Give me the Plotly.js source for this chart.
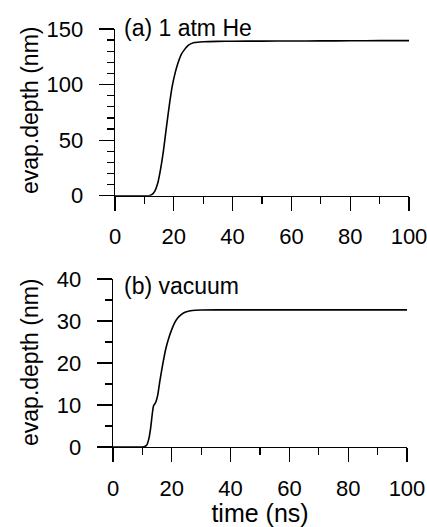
<!DOCTYPE html>
<html>
<head>
<meta charset="utf-8">
<script src="https://cdn.plot.ly/plotly-3.0.1.min.js"></script>
<style>
  html, body { margin: 0; padding: 0; background: #fff; }
  #chart { width: 427px; height: 527px; }
</style>
</head>
<body>
<div id="chart"></div>
<script>
// (a) evaporation depth under 1 atm helium
const timeHe  = [0, 10, 11.5, 12.5, 13.5, 14.5, 15.5, 16.5, 17.5, 18.5, 19.5, 20.5, 21.5, 22.5, 23.5, 25, 27, 30, 35, 40, 50, 60, 70, 80, 90, 100];
const depthHe = [0, 0, 0, 1, 4, 11, 24, 41, 62, 82, 99, 111, 120, 127, 131, 135.5, 137.8, 138.6, 138.9, 139, 139.1, 139.2, 139.3, 139.4, 139.5, 139.5];

// (b) evaporation depth in vacuum
const timeVac  = [0, 10, 10.8, 11.5, 12.2, 12.8, 13.3, 13.8, 14.5, 15.2, 16, 17, 18, 19, 20, 21, 22, 23, 24, 25, 27, 30, 40, 60, 80, 100];
const depthVac = [0, 0, 0.1, 0.5, 2, 4.5, 7.5, 9.8, 10.6, 12.3, 16, 20, 23.5, 26, 28, 29.6, 30.7, 31.4, 31.9, 32.2, 32.5, 32.6, 32.65, 32.65, 32.65, 32.65];

const panelLabels = ['(a) 1 atm He', '(b) vacuum'];
const xTitle = 'time (ns)';
const yTitle = 'evap.depth (nm)';

const FONT = 'Arial, "Liberation Sans", Helvetica, sans-serif';
const INK = '#000';

const lineStyle = { color: INK, width: 1.6, shape: 'spline', smoothing: 0.6 };

const traces = [
  { x: timeHe, y: depthHe, xaxis: 'x', yaxis: 'y', mode: 'lines', line: lineStyle, hoverinfo: 'skip', showlegend: false },
  { x: timeVac, y: depthVac, xaxis: 'x2', yaxis: 'y2', mode: 'lines', line: lineStyle, hoverinfo: 'skip', showlegend: false }
];

function xAxis(domain, anchor, withTitle) {
  const ax = {
    domain: domain, anchor: anchor, range: [0, 100],
    showgrid: false, zeroline: false,
    showline: true, linecolor: INK, linewidth: 1.3,
    ticks: 'outside', ticklen: 14, tickwidth: 1.3, tickcolor: INK,
    tick0: 0, dtick: 20, ticklabelstandoff: 7, ticklabeloverflow: 'allow',
    tickfont: { family: FONT, size: 22, color: INK },
    minor: { ticks: 'outside', dtick: 10, ticklen: 7, tickwidth: 1.3, tickcolor: INK },
    fixedrange: true
  };
  if (withTitle) ax.title = { text: xTitle, font: { family: FONT, size: 25, color: INK }, standoff: 1 };
  return ax;
}

function yAxis(domain, anchor, range, dtick, minorDtick) {
  return {
    domain: domain, anchor: anchor, range: range,
    showgrid: false, zeroline: false,
    showline: true, linecolor: INK, linewidth: 1.3,
    ticks: 'outside', ticklen: 15, tickwidth: 1.3, tickcolor: INK,
    tick0: 0, dtick: dtick, ticklabelstandoff: 11,
    tickfont: { family: FONT, size: 22, color: INK },
    minor: { ticks: 'outside', dtick: minorDtick, ticklen: 7, tickwidth: 1.3, tickcolor: INK },
    fixedrange: true
  };
}

// rotated axis titles, one per panel, centred on each panel's y axis
function yTitleNote(yCenter) {
  return {
    text: yTitle, xref: 'paper', yref: 'paper', x: -0.2804, y: yCenter,
    xanchor: 'center', yanchor: 'middle', textangle: -90, showarrow: false,
    font: { family: FONT, size: 23, color: INK }
  };
}

function panelNote(text, y) {
  return {
    text: text, xref: 'paper', yref: 'paper', x: 0.032, y: y,
    xanchor: 'left', yanchor: 'middle', showarrow: false,
    font: { family: FONT, size: 23, color: INK }
  };
}

const layout = {
  width: 427, height: 527,
  margin: { l: 113, r: 18, t: 29, b: 80 },
  paper_bgcolor: '#fff', plot_bgcolor: '#fff',
  font: { family: FONT, color: INK },
  xaxis:  xAxis([0.0068, 1.0], 'y', false),
  yaxis:  yAxis([0.601, 1.0], 'x', [0, 150], 50, 10),
  xaxis2: xAxis([0.0, 0.9932], 'y2', true),
  yaxis2: yAxis([0.0, 0.402], 'x2', [0, 40], 10, 5),
  annotations: [
    panelNote(panelLabels[0], 1.003),
    panelNote(panelLabels[1], 0.384),
    yTitleNote(0.8038),
    yTitleNote(0.201)
  ],
  showlegend: false
};

Plotly.newPlot('chart', traces, layout, { staticPlot: true, displayModeBar: false });
</script>
</body>
</html>
